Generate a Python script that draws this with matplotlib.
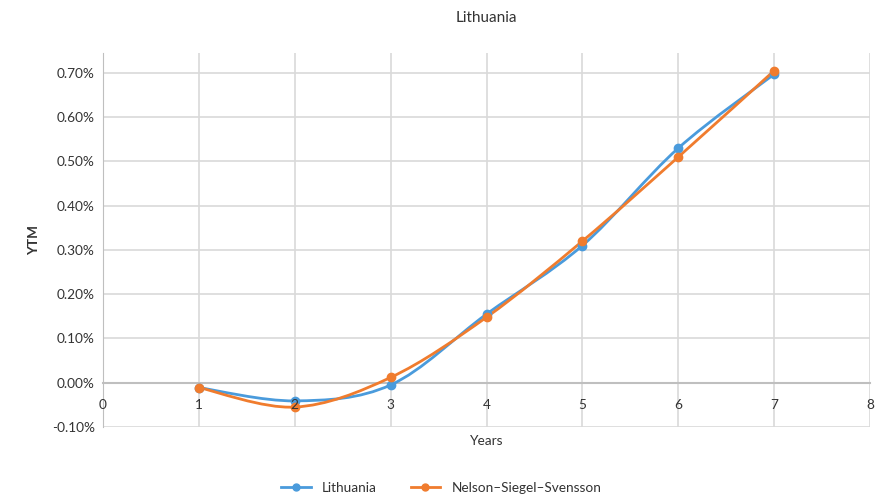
import matplotlib
matplotlib.use("Agg")
import matplotlib.pyplot as plt
from matplotlib.path import Path
from matplotlib.patches import PathPatch
from matplotlib.ticker import FuncFormatter
from matplotlib.transforms import offset_copy

plt.rcParams['font.family'] = ['Lato', 'DejaVu Sans']

years = [1, 2, 3, 4, 5, 6, 7]
lithuania = [-0.011, -0.041, -0.005, 0.155, 0.310, 0.530, 0.697]
nss = [-0.011, -0.055, 0.012, 0.148, 0.320, 0.510, 0.705]
x_ticks = [0, 1, 2, 3, 4, 5, 6, 7, 8]

blue = '#4A9BDC'
orange = '#F07C2E'
grid = '#D9D9D9'
text_col = '#333333'


def smooth_path(xs, ys):
    # Excel-like smoothed line: Catmull-Rom segments as cubic Bezier curves
    pts = list(zip(xs, ys))
    verts = [pts[0]]
    codes = [Path.MOVETO]
    t = 1 / 6
    for i in range(len(pts) - 1):
        p0 = pts[i - 1] if i > 0 else pts[i]
        p1 = pts[i]
        p2 = pts[i + 1]
        p3 = pts[i + 2] if i + 2 < len(pts) else pts[i + 1]
        c1 = (p1[0] + (p2[0] - p0[0]) * t, p1[1] + (p2[1] - p0[1]) * t)
        c2 = (p2[0] - (p3[0] - p1[0]) * t, p2[1] - (p3[1] - p1[1]) * t)
        verts += [c1, c2, p2]
        codes += [Path.CURVE4] * 3
    return Path(verts, codes)


fig = plt.figure(figsize=(8.82, 5.0), dpi=100)
ax = fig.add_axes([0.1168, 0.146, 0.8696, 0.748])

for ys, col, name in [(lithuania, blue, 'Lithuania'), (nss, orange, 'Nelson\u2013Siegel\u2013Svensson')]:
    ax.add_patch(PathPatch(smooth_path(years, ys), facecolor='none', edgecolor=col, lw=2, zorder=3))
    ax.plot(years, ys, linestyle='none', marker='o', ms=6, color=col, zorder=4)
    ax.plot([], [], color=col, lw=2, marker='o', ms=5, label=name)

ax.set_xlim(0, 8)
ax.set_ylim(-0.1, 0.745)
ax.set_xticks(x_ticks)
ax.set_xticklabels([])
ax.set_yticks([-0.1, 0.0, 0.1, 0.2, 0.3, 0.4, 0.5, 0.6, 0.7])
ax.yaxis.set_major_formatter(FuncFormatter(lambda v, p: f'{v:.2f}%'))
ax.grid(True, color=grid, lw=1.2)
ax.set_axisbelow(True)

# x tick labels sit just under the zero line, on top of the markers
lab_tr = offset_copy(ax.transData, fig=fig, x=0, y=-22, units='dots')
for xv in x_ticks:
    ax.text(xv, 0, str(xv), transform=lab_tr, ha='center', va='center',
            fontsize=9.8, color=text_col, zorder=5, clip_on=False)

for s in ['top', 'right']:
    ax.spines[s].set_visible(False)
ax.spines['left'].set_color('#BFBFBF')
ax.spines['bottom'].set_position(('data', 0))
ax.spines['bottom'].set_color('#BFBFBF')
ax.spines['bottom'].set_linewidth(1.5)
ax.tick_params(length=0, labelsize=9.8, colors=text_col, pad=6)

ax.set_title('Lithuania', fontsize=11, color=text_col, pad=22)
ax.set_ylabel('YTM', fontsize=9.8, color=text_col, fontweight='bold', labelpad=8)
fig.text(0.552, 0.118, 'Years', fontsize=9.8, color=text_col, ha='center', va='center')

fig.legend(loc='center', bbox_to_anchor=(0.5, 0.025), ncol=2, frameon=False,
           fontsize=9.8, labelcolor=text_col, handlelength=2.2, columnspacing=2.5)

fig.savefig('out.png', dpi=100)
